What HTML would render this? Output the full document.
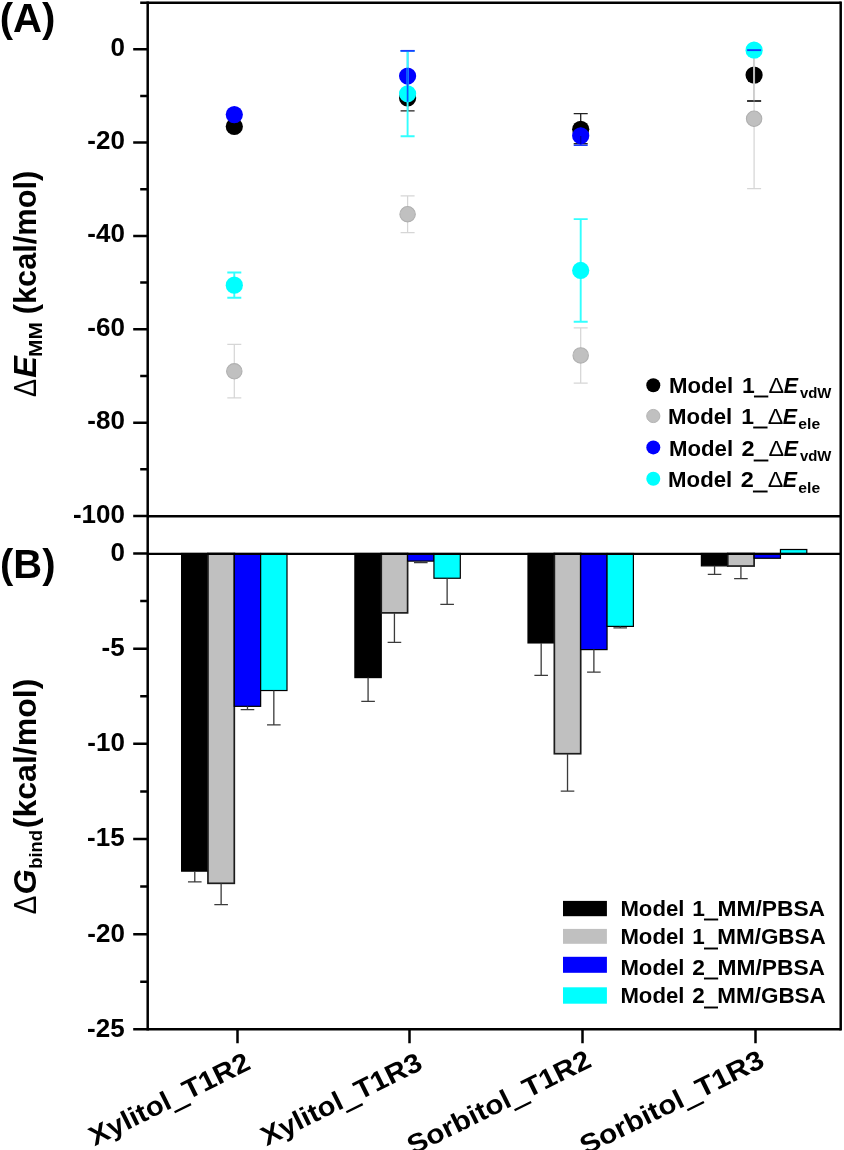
<!DOCTYPE html>
<html lang="en">
<head>
<meta charset="utf-8">
<title>Figure</title>
<style>html,body{margin:0;padding:0;background:#fff}svg{display:block}</style>
</head>
<body>
<svg width="844" height="1150" viewBox="0 0 844 1150" font-family="'Liberation Sans', Arial, Helvetica, sans-serif" font-weight="bold" fill="#000">
<defs><filter id="soft" filterUnits="userSpaceOnUse" x="-10" y="-10" width="864" height="1170"><feGaussianBlur stdDeviation="0.55"/></filter></defs>
<rect x="-10" y="-10" width="864" height="1170" fill="#fff"/>
<g filter="url(#soft)">
<rect x="-10" y="-10" width="864" height="1170" fill="#fff"/>
<g id="bars" stroke="#000" stroke-width="1.2">
<rect x="181.60" y="553.50" width="26.35" height="317.64" fill="#000000"/>
<rect x="207.95" y="553.50" width="26.35" height="329.82" fill="#c0c0c0" stroke-width="1.7" stroke="#1c1c1c"/>
<rect x="234.30" y="553.50" width="26.35" height="152.83" fill="#0000ff"/>
<rect x="260.65" y="553.50" width="26.35" height="137.03" fill="#00ffff"/>
<rect x="354.90" y="553.50" width="26.35" height="124.09" fill="#000000"/>
<rect x="381.25" y="553.50" width="26.35" height="59.38" fill="#c0c0c0" stroke-width="1.7" stroke="#1c1c1c"/>
<rect x="407.60" y="553.50" width="26.35" height="7.61" fill="#0000ff"/>
<rect x="433.95" y="553.50" width="26.35" height="24.74" fill="#00ffff"/>
<rect x="528.00" y="553.50" width="26.35" height="89.45" fill="#000000"/>
<rect x="554.35" y="553.50" width="26.35" height="200.22" fill="#c0c0c0" stroke-width="1.7" stroke="#1c1c1c"/>
<rect x="580.70" y="553.50" width="26.35" height="96.11" fill="#0000ff"/>
<rect x="607.05" y="553.50" width="26.35" height="72.89" fill="#00ffff"/>
<rect x="701.40" y="553.50" width="26.35" height="12.37" fill="#000000"/>
<rect x="727.75" y="553.50" width="26.35" height="12.56" fill="#c0c0c0" stroke-width="1.7" stroke="#1c1c1c"/>
<rect x="754.10" y="553.50" width="26.35" height="4.76" fill="#0000ff"/>
<rect x="780.45" y="549.50" width="26.35" height="4.00" fill="#00ffff"/>
</g>
<g id="barerr" stroke="#3a3a3a" stroke-width="1.3" fill="none">
<path d="M194.78 871.14V881.80M187.98 881.80H201.58"/>
<path d="M221.13 883.32V904.64M214.33 904.64H227.93"/>
<path d="M247.48 706.33V709.56M240.68 709.56H254.28"/>
<path d="M273.83 690.53V724.79M267.03 724.79H280.63"/>
<path d="M368.08 677.59V701.38M361.28 701.38H374.88"/>
<path d="M394.43 612.88V642.38M387.63 642.38H401.23"/>
<path d="M420.78 561.11V562.64M413.98 562.64H427.58"/>
<path d="M447.13 578.24V604.32M440.33 604.32H453.93"/>
<path d="M541.17 642.95V675.30M534.38 675.30H547.97"/>
<path d="M567.52 753.72V791.21M560.73 791.21H574.32"/>
<path d="M593.88 649.61V672.07M587.08 672.07H600.67"/>
<path d="M620.22 626.39V627.92M613.42 627.92H627.02"/>
<path d="M714.57 565.87V574.44M707.77 574.44H721.37"/>
<path d="M740.92 566.06V578.62M734.12 578.62H747.72"/>
</g>
<g id="points">
<circle cx="234.30" cy="126.46" r="8.6" fill="#000000"/>
<path d="M234.30 344.45V397.90M227.30 344.45H241.30M227.30 397.90H241.30" stroke="#d6d6d6" stroke-width="1.25" fill="none"/>
<circle cx="234.30" cy="371.29" r="7.7" fill="#c0c0c0" stroke="#b0b0b0" stroke-width="1.1"/>
<circle cx="234.30" cy="114.55" r="8.6" fill="#0000ff"/>
<path d="M234.30 272.56V297.77M227.30 272.56H241.30M227.30 297.77H241.30" stroke="#33ffff" stroke-width="1.9" fill="none"/>
<circle cx="234.30" cy="285.17" r="8.6" fill="#00ffff"/>
<path d="M407.60 85.61V110.82M400.60 110.82H414.60" stroke="#222222" stroke-width="1.3" fill="none"/>
<circle cx="407.60" cy="97.98" r="8.6" fill="#000000"/>
<path d="M407.60 195.78V232.65M400.60 195.78H414.60M400.60 232.65H414.60" stroke="#d6d6d6" stroke-width="1.25" fill="none"/>
<circle cx="407.60" cy="214.21" r="7.7" fill="#c0c0c0" stroke="#b0b0b0" stroke-width="1.1"/>
<path d="M407.60 50.83V101.25M400.60 50.83H414.60" stroke="#1a3cff" stroke-width="1.5" fill="none"/>
<circle cx="407.60" cy="76.04" r="8.6" fill="#0000ff"/>
<path d="M407.60 50.83V136.26M400.60 50.83H414.60M400.60 136.26H414.60" stroke="#33ffff" stroke-width="1.9" fill="none"/>
<circle cx="407.60" cy="93.78" r="8.6" fill="#00ffff"/>
<path d="M580.70 113.62V143.73M573.70 113.62H587.70M573.70 143.73H587.70" stroke="#222222" stroke-width="1.3" fill="none"/>
<circle cx="580.70" cy="129.26" r="8.6" fill="#000000"/>
<path d="M580.70 327.88V383.20M573.70 327.88H587.70M573.70 383.20H587.70" stroke="#d6d6d6" stroke-width="1.25" fill="none"/>
<circle cx="580.70" cy="355.42" r="7.7" fill="#c0c0c0" stroke="#b0b0b0" stroke-width="1.1"/>
<path d="M580.70 127.86V145.13M573.70 145.13H587.70" stroke="#1a3cff" stroke-width="1.5" fill="none"/>
<circle cx="580.70" cy="135.79" r="8.6" fill="#0000ff"/>
<path d="M580.70 219.12V321.81M573.70 219.12H587.70M573.70 321.81H587.70" stroke="#33ffff" stroke-width="1.9" fill="none"/>
<circle cx="580.70" cy="270.46" r="8.6" fill="#00ffff"/>
<path d="M754.10 49.43V101.01M747.10 49.43H761.10M747.10 101.01H761.10" stroke="#222222" stroke-width="1.3" fill="none"/>
<circle cx="754.10" cy="75.11" r="8.6" fill="#000000"/>
<path d="M754.10 49.20V188.54M747.10 49.20H761.10M747.10 188.54H761.10" stroke="#d6d6d6" stroke-width="1.25" fill="none"/>
<circle cx="754.10" cy="118.75" r="7.7" fill="#c0c0c0" stroke="#b0b0b0" stroke-width="1.1"/>
<circle cx="754.10" cy="50.13" r="8.6" fill="#00ffff"/>
<path d="M407.60 67.74V101.78" stroke="#0a55ff" stroke-width="1.7" fill="none"/>
<path d="M400.60 50.83H414.60" stroke="#1a3cff" stroke-width="1.8" fill="none"/>
<path d="M580.70 136.02V143.96" stroke="#00008c" stroke-width="1.4" stroke-opacity="0.75" fill="none"/>
<path d="M754.10 58.54V101.48" stroke="#d2d2d2" stroke-width="1.9" fill="none"/>
<path d="M747.10 101.01H761.10" stroke="#2a2a2a" stroke-width="1.3" fill="none"/>
<path d="M754.10 66.71V83.51" stroke="#b4b4b4" stroke-width="1.2" fill="none"/>
<path d="M747.10 50.13H761.10" stroke="#0a40ff" stroke-width="1.9" fill="none"/>
</g>
<g id="frame" stroke="#000" stroke-width="2.5" fill="none" stroke-linecap="butt">
<path d="M147.7 1.55V1030.55"/>
<path d="M840.7 1.55V1030.55"/>
<path d="M140.2 2.8H840.7"/>
<path d="M147.7 516.3H840.7"/>
<path d="M147.7 553.8H840.7" stroke-width="2.3"/>
<path d="M147.7 1029.3H840.7"/>
<path d="M133.2 49.20H147.7M133.2 142.56H147.7M133.2 235.92H147.7M133.2 329.28H147.7M133.2 422.64H147.7M133.2 516.00H147.7M140.2 95.88H147.7M140.2 189.24H147.7M140.2 282.60H147.7M140.2 375.96H147.7M140.2 469.32H147.7M133.2 553.50H147.7M133.2 648.66H147.7M133.2 743.82H147.7M133.2 838.98H147.7M133.2 934.14H147.7M133.2 1029.30H147.7M140.2 601.08H147.7M140.2 696.24H147.7M140.2 791.40H147.7M140.2 886.56H147.7M140.2 981.72H147.7M237.5 1029.3V1043.3M409.5 1029.3V1043.3M582.5 1029.3V1043.3M755.5 1029.3V1043.3"/>
</g>
<g id="ylabels">
<text transform="translate(110.50 55.71) scale(0.9930 1)" font-size="26.2" font-weight="bold" >0</text>
<text transform="translate(87.35 149.07) scale(0.9930 1)" font-size="26.2" font-weight="bold" >-20</text>
<text transform="translate(87.35 242.43) scale(0.9930 1)" font-size="26.2" font-weight="bold" >-40</text>
<text transform="translate(87.35 335.79) scale(0.9930 1)" font-size="26.2" font-weight="bold" >-60</text>
<text transform="translate(87.35 429.15) scale(0.9930 1)" font-size="26.2" font-weight="bold" >-80</text>
<text transform="translate(72.91 522.51) scale(0.9930 1)" font-size="26.2" font-weight="bold" >-100</text>
<text transform="translate(110.50 560.91) scale(0.9930 1)" font-size="26.2" font-weight="bold" >0</text>
<text transform="translate(101.53 656.07) scale(0.9930 1)" font-size="26.2" font-weight="bold" >-5</text>
<text transform="translate(87.35 751.23) scale(0.9930 1)" font-size="26.2" font-weight="bold" >-10</text>
<text transform="translate(87.02 846.39) scale(0.9930 1)" font-size="26.2" font-weight="bold" >-15</text>
<text transform="translate(87.35 941.55) scale(0.9930 1)" font-size="26.2" font-weight="bold" >-20</text>
<text transform="translate(87.02 1036.71) scale(0.9930 1)" font-size="26.2" font-weight="bold" >-25</text>
</g>
<g id="xlabels">
<text transform="translate(251.1 1068.9) rotate(-26.3) scale(1.0850 1) translate(-160.92 0)" font-size="27.0" font-weight="bold">Xylitol<tspan dy="2.02" stroke="#000" stroke-width="1.35">_</tspan><tspan dy="-2.02">T1R2</tspan></text>
<text transform="translate(423.1 1068.9) rotate(-26.3) scale(1.0850 1) translate(-161.06 0)" font-size="27.0" font-weight="bold">Xylitol<tspan dy="2.02" stroke="#000" stroke-width="1.35">_</tspan><tspan dy="-2.02">T1R3</tspan></text>
<text transform="translate(592.1 1066.5) rotate(-26.3) scale(1.1002 1) translate(-181.91 0)" font-size="27.0" font-weight="bold">Sorbitol<tspan dy="2.02" stroke="#000" stroke-width="1.35">_</tspan><tspan dy="-2.02">T1R2</tspan></text>
<text transform="translate(765.1 1066.5) rotate(-26.3) scale(1.1002 1) translate(-182.05 0)" font-size="27.0" font-weight="bold">Sorbitol<tspan dy="2.02" stroke="#000" stroke-width="1.35">_</tspan><tspan dy="-2.02">T1R3</tspan></text>
</g>
<text transform="translate(-0.31 31.70) scale(0.9794 1)" font-size="41" font-weight="bold" >(A)</text>
<text transform="translate(0.00 578.20) scale(0.9756 1)" font-size="41" font-weight="bold" >(B)</text>
<g transform="translate(35.5 396.4) rotate(-90)">
<text transform="translate(-0.51 0.00) scale(0.8765 1)" font-size="30.8" font-weight="normal" >Δ</text>
<text transform="translate(18.63 0.00) scale(1.0582 1)" font-size="30.8" font-weight="bold" font-style="italic" >E</text>
<text transform="translate(39.39 6.40) scale(1.1305 1)" font-size="18.5" font-weight="bold" >MM</text>
<text transform="translate(82.06 0.00) scale(0.9994 1)" font-size="30.8" font-weight="bold" >(kcal/mol)</text>
</g>
<g transform="translate(35.5 913.8) rotate(-90)">
<text transform="translate(-0.53 0.00) scale(0.9032 1)" font-size="30.8" font-weight="normal" >Δ</text>
<text transform="translate(19.18 0.00) scale(1.0520 1)" font-size="30.8" font-weight="bold" font-style="italic" >G</text>
<text transform="translate(45.01 6.40) scale(0.9676 1)" font-size="19.0" font-weight="bold" >bind</text>
<text transform="translate(85.50 0.00) scale(1.0421 1)" font-size="30.8" font-weight="bold" >(kcal/mol)</text>
</g>
<g id="legA">
<circle cx="653.3" cy="385.3" r="7.0" fill="#000000"/>
<text transform="translate(668.90 392.50) scale(0.9963 1)" font-size="22.3" font-weight="bold" >Model</text>
<text transform="translate(742.06 392.50) scale(1.0304 1)" font-size="22.3" font-weight="bold" >1<tspan dy="1.67" stroke="#000" stroke-width="1.11">_</tspan><tspan dy="-1.67"></tspan></text>
<text transform="translate(768.50 392.50) scale(1.0482 1)" font-size="22.3" font-weight="normal" >Δ</text>
<text transform="translate(783.63 392.50) scale(0.9567 1)" font-size="22.3" font-weight="bold" font-style="italic" >E</text>
<text transform="translate(799.93 397.70) scale(0.9945 1)" font-size="15.0" font-weight="bold" >vdW</text>
<circle cx="653.3" cy="416.0" r="6.6" fill="#c0c0c0" stroke="#b4b4b4" stroke-width="1"/>
<text transform="translate(668.10 423.80) scale(0.9963 1)" font-size="22.3" font-weight="bold" >Model</text>
<text transform="translate(741.26 423.80) scale(1.0304 1)" font-size="22.3" font-weight="bold" >1<tspan dy="1.67" stroke="#000" stroke-width="1.11">_</tspan><tspan dy="-1.67"></tspan></text>
<text transform="translate(767.70 423.80) scale(1.0482 1)" font-size="22.3" font-weight="normal" >Δ</text>
<text transform="translate(782.83 423.80) scale(0.9567 1)" font-size="22.3" font-weight="bold" font-style="italic" >E</text>
<text transform="translate(798.37 429.00) scale(1.0474 1)" font-size="15.0" font-weight="bold" >ele</text>
<circle cx="653.3" cy="447.4" r="7.0" fill="#0000ff"/>
<text transform="translate(668.90 456.20) scale(0.9963 1)" font-size="22.3" font-weight="bold" >Model</text>
<text transform="translate(741.48 456.20) scale(1.0539 1)" font-size="22.3" font-weight="bold" >2<tspan dy="1.67" stroke="#000" stroke-width="1.11">_</tspan><tspan dy="-1.67"></tspan></text>
<text transform="translate(768.50 456.20) scale(1.0482 1)" font-size="22.3" font-weight="normal" >Δ</text>
<text transform="translate(783.63 456.20) scale(0.9567 1)" font-size="22.3" font-weight="bold" font-style="italic" >E</text>
<text transform="translate(799.93 461.40) scale(0.9945 1)" font-size="15.0" font-weight="bold" >vdW</text>
<circle cx="653.3" cy="478.7" r="7.0" fill="#00ffff"/>
<text transform="translate(668.10 487.40) scale(0.9963 1)" font-size="22.3" font-weight="bold" >Model</text>
<text transform="translate(740.68 487.40) scale(1.0539 1)" font-size="22.3" font-weight="bold" >2<tspan dy="1.67" stroke="#000" stroke-width="1.11">_</tspan><tspan dy="-1.67"></tspan></text>
<text transform="translate(767.70 487.40) scale(1.0482 1)" font-size="22.3" font-weight="normal" >Δ</text>
<text transform="translate(782.83 487.40) scale(0.9567 1)" font-size="22.3" font-weight="bold" font-style="italic" >E</text>
<text transform="translate(798.37 492.60) scale(1.0474 1)" font-size="15.0" font-weight="bold" >ele</text>
</g>
<g id="legB">
<rect x="563" y="900.9" width="43.9" height="15.3" fill="#000000"/>
<text transform="translate(620.40 915.60) scale(0.9947 1)" font-size="22.3" font-weight="bold" >Model</text>
<text transform="translate(692.18 915.60) scale(1.0218 1)" font-size="22.3" font-weight="bold" >1<tspan dy="1.67" stroke="#000" stroke-width="1.11">_</tspan><tspan dy="-1.67">MM/PBSA</tspan></text>
<rect x="563" y="928.9" width="43.9" height="14.9" fill="#c0c0c0"/>
<text transform="translate(620.40 944.40) scale(0.9947 1)" font-size="22.3" font-weight="bold" >Model</text>
<text transform="translate(692.19 944.40) scale(1.0087 1)" font-size="22.3" font-weight="bold" >1<tspan dy="1.67" stroke="#000" stroke-width="1.11">_</tspan><tspan dy="-1.67">MM/GBSA</tspan></text>
<rect x="563" y="956.8" width="43.9" height="16.0" fill="#0000ff"/>
<text transform="translate(620.40 974.60) scale(0.9947 1)" font-size="22.3" font-weight="bold" >Model</text>
<text transform="translate(692.20 974.60) scale(1.0215 1)" font-size="22.3" font-weight="bold" >2<tspan dy="1.67" stroke="#000" stroke-width="1.11">_</tspan><tspan dy="-1.67">MM/PBSA</tspan></text>
<rect x="563" y="987.3" width="43.9" height="16.4" fill="#00ffff"/>
<text transform="translate(620.40 1003.40) scale(0.9947 1)" font-size="22.3" font-weight="bold" >Model</text>
<text transform="translate(692.21 1003.40) scale(1.0085 1)" font-size="22.3" font-weight="bold" >2<tspan dy="1.67" stroke="#000" stroke-width="1.11">_</tspan><tspan dy="-1.67">MM/GBSA</tspan></text>
</g>
</g>
</svg>
</body>
</html>
